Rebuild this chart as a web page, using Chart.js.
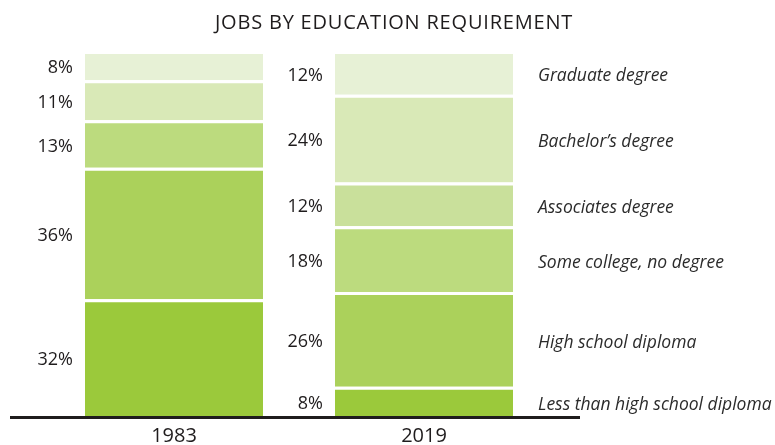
<!DOCTYPE html>
<html>
<head>
<meta charset="utf-8">
<script src="https://cdn.jsdelivr.net/npm/chart.js@4/dist/chart.umd.min.js"></script>
<style>
    html, body { margin: 0; padding: 0; background: #fff; }
    #wrap { width: 775px; height: 445px; position: relative; }
</style>
</head>
<body>
<div id="wrap"><canvas id="chart"></canvas></div>
<script>
// Data
const years = ['1983', '2019'];
const lessThanHighSchool = [32, 8];
const highSchool = [36, 26];
const someCollege = [13, 18];
const associates = [null, 12];
const bachelors = [11, 24];
const graduate = [8, 12];

const seriesNames = [
    'Less than high school diploma',
    'High school diploma',
    'Some college, no degree',
    'Associates degree',
    'Bachelor\u2019s degree',
    'Graduate degree'
];
const seriesValues = [lessThanHighSchool, highSchool, someCollege, associates, bachelors, graduate];
const seriesColors = ['#9bc93b', '#abd15b', '#bcdb7e', '#c9e09b', '#d9e9b7', '#e7f1d6'];

const TEXT = '#1f1c1d';
const FONT = '"Open Sans", "Noto Sans", sans-serif';

// Draws title, value labels, series labels, year labels and the baseline
const annotate = {
    id: 'annotate',
    afterDatasetsDraw(chart) {
        const ctx = chart.ctx;
        const area = chart.chartArea;
        const xScale = chart.scales.x;
        ctx.save();

        // title
        ctx.fillStyle = TEXT;
        ctx.font = '20px ' + FONT;
        ctx.letterSpacing = '0.8px';
        ctx.textAlign = 'center';
        ctx.textBaseline = 'middle';
        ctx.fillText('JOBS BY EDUCATION REQUIREMENT', 394, 23);
        ctx.letterSpacing = '0px';

        // value labels to the left of each segment
        chart.data.datasets.forEach((ds, di) => {
            const meta = chart.getDatasetMeta(di);
            meta.data.forEach((bar, i) => {
                const v = ds.data[i];
                if (v === null || v === undefined) return;
                const p = bar.getProps(['x', 'y', 'base', 'width'], true);
                const cy = (p.y + 3 + p.base) / 2;
                ctx.font = '18px ' + FONT;
                ctx.fillStyle = TEXT;
                ctx.textAlign = 'right';
                ctx.fillText(v + '%', p.x - p.width / 2 - 12, cy + 1);

                // series names next to the last bar
                if (i === years.length - 1) {
                    ctx.font = 'italic 17.5px ' + FONT;
                    ctx.fillStyle = '#2b2b2b';
                    ctx.textAlign = 'left';
                    ctx.fillText(ds.label, p.x + p.width / 2 + 25, cy + 2);
                }
            });
        });

        // baseline
        ctx.strokeStyle = TEXT;
        ctx.lineWidth = 3;
        ctx.beginPath();
        ctx.moveTo(10, area.bottom + 1.5);
        ctx.lineTo(580, area.bottom + 1.5);
        ctx.stroke();

        // year labels
        ctx.font = '20px ' + FONT;
        ctx.fillStyle = TEXT;
        ctx.textAlign = 'center';
        years.forEach((y, i) => {
            ctx.fillText(y, xScale.getPixelForValue(i), 436);
        });

        ctx.restore();
    }
};

const datasets = seriesNames.map((name, i) => ({
    label: name,
    data: seriesValues[i],
    backgroundColor: seriesColors[i],
    borderColor: '#ffffff',
    borderWidth: { top: 3, bottom: 0, left: 0, right: 0 },
    borderSkipped: false,
    barPercentage: 1,
    categoryPercentage: 0.712
}));

new Chart(document.getElementById('chart'), {
    type: 'bar',
    data: { labels: years, datasets },
    options: {
        responsive: true,
        maintainAspectRatio: false,
        animation: false,
        devicePixelRatio: 1,
        layout: { padding: { left: 49, right: 226, top: 51, bottom: 29 } },
        plugins: {
            legend: { display: false },
            tooltip: { enabled: false },
            title: { display: false }
        },
        scales: {
            x: { stacked: true, display: false },
            y: { stacked: true, display: false, min: 0, max: 100 }
        }
    },
    plugins: [annotate]
});
</script>
</body>
</html>
